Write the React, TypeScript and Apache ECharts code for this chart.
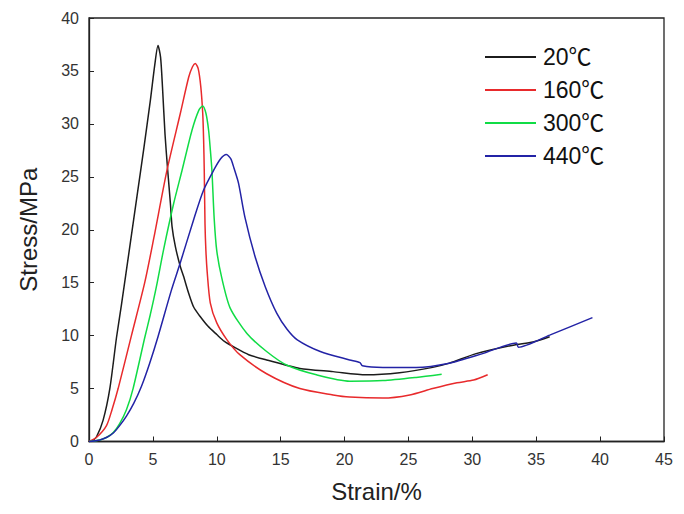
import React, { useEffect, useRef } from "react";
import * as echarts from "echarts";

const seriesNames = ["20℃", "160℃", "300℃", "440℃"];
const seriesColors = ["#1c1c1c", "#e82a2c", "#10dc45", "#2323a6"];

const xTicks = { min: 0, max: 45, interval: 5 };
const yTicks = { min: 0, max: 40, interval: 5 };

const curve20: number[][] = [
  [0, 0], [0.3, 0.1], [0.59, 0.45], [1.1, 2.0], [1.63, 5.0], [2.15, 9.8], [2.55, 13.0],
  [3.24, 18.8], [3.76, 23.2], [4.28, 27.6], [4.8, 32.2], [5.15, 35.6], [5.4, 37.4],
  [5.6, 36.3], [5.75, 33.5], [5.95, 29.0], [6.16, 25.6], [6.37, 22.5], [6.5, 20.3],
  [6.76, 18.4], [7.15, 16.5], [7.4, 15.6], [7.8, 14.0], [8.19, 12.7], [8.7, 11.8],
  [9.3, 10.9], [10.0, 10.1], [10.6, 9.45], [11.3, 8.95], [12.5, 8.2], [13.9, 7.7],
  [16.5, 6.9], [19.1, 6.6], [21.7, 6.3], [24.3, 6.5], [26.9, 7.0], [28.2, 7.4],
  [30.3, 8.3], [33.2, 9.1], [34.75, 9.4], [36.05, 9.9],
];

const curve160: number[][] = [
  [0, 0], [0.6, 0.4], [1.37, 1.5], [1.8, 3.0], [2.28, 5.0], [3.32, 10.0], [4.36, 15.0],
  [5.07, 19.2], [6.1, 25.6], [7.15, 31.0], [7.8, 34.4], [8.1, 35.4], [8.32, 35.7],
  [8.55, 35.2], [8.75, 33.5], [8.9, 31.0], [8.97, 28.5], [9.02, 25.6], [9.08, 20.5],
  [9.15, 18.0], [9.25, 16.0], [9.49, 13.1], [10.0, 11.2], [10.8, 9.6], [11.8, 8.2],
  [13.9, 6.4], [16.5, 5.0], [19.1, 4.4], [20.4, 4.2], [23.0, 4.1], [25.1, 4.4],
  [26.9, 5.0], [28.8, 5.55], [30.1, 5.8], [31.2, 6.3],
];

const curve300: number[][] = [
  [0, 0], [0.85, 0.15], [1.4, 0.4], [1.9, 0.85], [2.4, 1.7], [2.93, 3.0], [3.45, 5.0],
  [4.36, 9.8], [4.8, 12.0], [5.27, 14.6], [5.85, 18.2], [6.63, 22.5], [7.28, 25.6],
  [8.06, 29.4], [8.6, 31.3], [8.9, 31.7], [9.15, 31.0], [9.36, 29.4], [9.5, 27.5],
  [9.62, 25.6], [9.8, 21.0], [10.0, 18.0], [10.4, 15.4], [11.05, 12.6], [12.36, 10.2],
  [13.9, 8.5], [15.5, 7.2], [17.8, 6.3], [20.4, 5.7], [23.0, 5.75], [25.6, 6.05],
  [27.6, 6.35],
];

const curve440: number[][] = [
  [0, 0], [0.85, 0.15], [1.4, 0.4], [1.9, 0.8], [2.4, 1.5], [2.93, 2.4], [3.5, 3.6],
  [4.1, 5.2], [4.75, 7.4], [5.4, 9.9], [6.45, 14.3], [7.15, 16.9], [8.2, 21.0],
  [8.97, 23.75], [9.75, 25.6], [10.3, 26.7], [10.75, 27.1], [11.1, 26.7], [11.35, 25.8],
  [11.7, 24.4], [12.2, 21.2], [13.0, 17.45], [13.8, 14.6], [14.7, 12.1], [15.5, 10.6],
  [16.3, 9.6], [18.1, 8.5], [20.4, 7.7], [21.2, 7.45], [21.4, 7.15], [23.0, 7.0],
  [25.6, 7.0], [28.2, 7.4], [30.8, 8.3], [33.45, 9.3], [33.6, 8.9], [36.05, 10.05],
  [39.4, 11.7],
];

const curves = [curve20, curve160, curve300, curve440];

export default function App() {
  const ref = useRef<HTMLDivElement>(null);
  useEffect(() => {
    if (!ref.current) return;
    const chart = echarts.init(ref.current, undefined, { renderer: "svg" });
    const font = "'Liberation Sans', Arial, 'Noto Sans CJK SC', sans-serif";
    chart.setOption({
      animation: false,
      backgroundColor: "#ffffff",
      grid: {
        left: 89,
        right: 20,
        top: 18,
        bottom: 72.5,
        show: true,
        borderColor: "#222",
        borderWidth: 1.3,
      },
      legend: {
        orient: "vertical",
        left: 485,
        top: 45,
        padding: 0,
        itemWidth: 51,
        itemHeight: 2,
        itemGap: 9,
        icon: "rect",
        data: seriesNames,
        textStyle: {
          fontSize: 23,
          color: "#111",
          fontFamily: font,
          lineHeight: 24,
          padding: [0, 0, 0, 2],
        },
      },
      xAxis: {
        type: "value",
        min: xTicks.min,
        max: xTicks.max,
        interval: xTicks.interval,
        name: "Strain/%",
        nameLocation: "middle",
        nameGap: 38,
        nameTextStyle: { fontSize: 24, color: "#222", fontFamily: font },
        axisLine: { show: true, lineStyle: { color: "#222", width: 1.3 } },
        axisTick: { show: true, inside: true, length: 5, lineStyle: { color: "#222" } },
        axisLabel: { fontSize: 16, color: "#333", margin: 10, fontFamily: font },
        splitLine: { show: false },
      },
      yAxis: {
        type: "value",
        min: yTicks.min,
        max: yTicks.max,
        interval: yTicks.interval,
        name: "Stress/MPa",
        nameLocation: "middle",
        nameGap: 49,
        nameTextStyle: { fontSize: 24, color: "#222", fontFamily: font },
        axisLine: { show: true, lineStyle: { color: "#222", width: 1.3 } },
        axisTick: { show: true, inside: true, length: 5, lineStyle: { color: "#222" } },
        axisLabel: { fontSize: 16, color: "#333", margin: 10, fontFamily: font },
        splitLine: { show: false },
      },
      series: curves.map((d, i) => ({
        name: seriesNames[i],
        type: "line",
        data: d,
        showSymbol: false,
        symbol: "none",
        smooth: 0.25,
        lineStyle: { color: seriesColors[i], width: 1.5 },
        itemStyle: { color: seriesColors[i] },
      })),
    });
    return () => chart.dispose();
  }, []);
  return <div ref={ref} style={{ width: 684, height: 514, position: "absolute", left: 0, top: 0 }} />;
}
